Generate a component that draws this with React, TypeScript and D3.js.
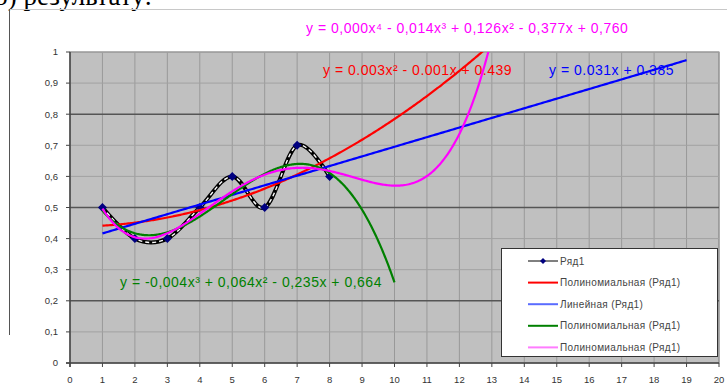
import { useEffect } from 'react'
import * as d3 from 'd3'

// Ряд1
const xValues = [1, 2, 3, 4, 5, 6, 7, 8]
const yValues = [0.5, 0.4, 0.4, 0.5, 0.6, 0.5, 0.7, 0.6]

// trendlines (Excel: degree, forecast end, colour)
const trendDegrees = [2, 1, 3, 4]
const trendEnds = [13, 19, 10, 13]
const trendColors = ['#ff0000', '#0000ff', '#008000', '#ff00ff']

const legendLabels = [
  'Ряд1',
  'Полиномиальная (Ряд1)',
  'Линейная (Ряд1)',
  'Полиномиальная (Ряд1)',
  'Полиномиальная (Ряд1)',
]
const legendColors = ['#000080', '#ff0000', '#5a6cff', '#008000', '#ff7cff']

const equations = [
  'y = 0.003x² - 0.001x + 0.439',
  'y = 0.031x + 0.385',
  'y = -0,004x³ + 0,064x² - 0,235x + 0,664',
  'y = 0,000x⁴ - 0,014x³ + 0,126x² - 0,377x + 0,760',
]
const equationPos: [number, number][] = [
  [323, 75],
  [549, 75],
  [120, 287],
  [306, 33],
]

const xTicks = d3.range(0, 21)
const yTicks = d3.range(0, 11).map(d => d / 10)
const darkRows = [0.2, 0.5, 0.8]

// least squares polynomial fit, like Excel's trendline
function polyfit(xs: number[], ys: number[], deg: number) {
  const n = deg + 1
  const A = d3.range(n).map(() => d3.range(n + 1).map(() => 0))
  xs.forEach((x, k) => {
    for (let i = 0; i < n; i++) {
      for (let j = 0; j < n; j++) A[i][j] += Math.pow(x, i + j)
      A[i][n] += Math.pow(x, i) * ys[k]
    }
  })
  for (let c = 0; c < n; c++) {
    let p = c
    for (let r = c + 1; r < n; r++) if (Math.abs(A[r][c]) > Math.abs(A[p][c])) p = r
    ;[A[c], A[p]] = [A[p], A[c]]
    for (let r = 0; r < n; r++) {
      if (r === c) continue
      const f = A[r][c] / A[c][c]
      for (let j = c; j <= n; j++) A[r][j] -= f * A[c][j]
    }
  }
  return d3.range(n).map(i => A[i][n] / A[i][i])
}

const W = 727
const H = 385
const font = '"Liberation Sans", Arial, sans-serif'

export default function App() {
  useEffect(() => {
    document.body.style.margin = '0'
  }, [])

  const x = d3.scaleLinear().domain([0, 20]).range([70, 719])
  const y = d3.scaleLinear().domain([0, 1]).range([363, 52])
  const [x0, x1] = x.range()
  const [yb, yt] = y.range()

  const pts = xValues.map((v, i) => [x(v), y(yValues[i])] as [number, number])
  const seriesPath = d3.line().curve(d3.curveCatmullRom.alpha(0))(pts) ?? ''

  const trends = trendDegrees.map((deg, i) => {
    const c = polyfit(xValues, yValues, deg)
    const xs = d3.range(0, 301).map(k => 1 + ((trendEnds[i] - 1) * k) / 300)
    const line = d3.line<number>()
      .x(v => x(v))
      .y(v => y(c.reduce((s, ci, j) => s + ci * Math.pow(v, j), 0)))
    return line(xs) ?? ''
  })

  const fmt = (v: number) => (v === 0 || v === 1 ? String(v) : d3.format('.1f')(v).replace('.', ','))

  return (
    <svg width={W} height={H} style={{ display: 'block', background: '#fff' }}>
      <defs>
        <clipPath id="plot">
          <rect x={x0} y={yt} width={x1 - x0} height={yb - yt} />
        </clipPath>
      </defs>

      {/* scanned page bits */}
      <text x={-6} y={5} fontFamily='"Liberation Serif", "Times New Roman", serif' fontSize={27} fill="#000">
        б) результату:
      </text>
      <line x1={9} x2={W} y1={9.5} y2={9.5} stroke="#c8c8c8" />
      <line x1={9.5} x2={9.5} y1={9} y2={335} stroke="#555" />

      {/* plot area */}
      <rect x={x0} y={yt} width={x1 - x0} height={yb - yt} fill="#c0c0c0" stroke="#808080" />
      {xTicks.slice(1).map(t => (
        <line key={'gx' + t} x1={x(t)} x2={x(t)} y1={yt} y2={yb} stroke="#999" strokeWidth={1} />
      ))}
      {yTicks.slice(1).map(t => (
        <line key={'gy' + t} x1={x0} x2={x1} y1={y(t)} y2={y(t)}
          stroke={darkRows.includes(t) ? '#555' : '#a2a2a2'} strokeWidth={darkRows.includes(t) ? 1.5 : 1} />
      ))}

      {/* axes */}
      <line x1={x0} x2={x0} y1={yt} y2={yb + 4} stroke="#444" strokeWidth={1.5} />
      <line x1={x0 - 4} x2={x1} y1={yb} y2={yb} stroke="#444" strokeWidth={1.5} />
      {yTicks.map(t => (
        <g key={'yt' + t}>
          <line x1={x0 - 4} x2={x0} y1={y(t)} y2={y(t)} stroke="#444" />
          <text x={58} y={y(t)} dy="0.35em" textAnchor="end" fontFamily={font} fontSize={9.5} fill="#333">
            {fmt(t)}
          </text>
        </g>
      ))}
      {xTicks.map(t => (
        <g key={'xt' + t}>
          <line x1={x(t)} x2={x(t)} y1={yb} y2={yb + 4} stroke="#444" />
          <text x={x(t)} y={380} dy="0.35em" textAnchor="middle" fontFamily={font} fontSize={9.5} fill="#333">
            {t}
          </text>
        </g>
      ))}

      {/* Ряд1 smoothed line */}
      <g clipPath="url(#plot)">
        <path d={seriesPath} fill="none" stroke="#000" strokeWidth={4} />
        <path d={seriesPath} fill="none" stroke="#fff" strokeWidth={1.4} strokeDasharray="4 3" />
        {pts.map(([px, py], i) => (
          <path key={'m' + i} d={`M${px},${py - 4.5}L${px + 4.5},${py}L${px},${py + 4.5}L${px - 4.5},${py}Z`} fill="#000080" />
        ))}
        {trends.map((d, i) => (
          <path key={'tr' + i} d={d} fill="none" stroke={trendColors[i]} strokeWidth={2.2} />
        ))}
      </g>

      {/* equations */}
      {equations.map((e, i) => (
        <text key={'eq' + i} x={equationPos[i][0]} y={equationPos[i][1]} fontFamily={font}
          fontSize={14} letterSpacing={0.5} fill={trendColors[i]}>
          {e}
        </text>
      ))}

      {/* legend */}
      <rect x={501.5} y={248.5} width={216} height={108} fill="#fff" stroke="#333" />
      {legendLabels.map((l, i) => {
        const ly = 261 + i * 21.6
        return (
          <g key={'lg' + i}>
            <line x1={528} x2={558} y1={ly} y2={ly} stroke={i === 0 ? '#000' : legendColors[i]} strokeWidth={i === 0 ? 1 : 2} />
            {i === 0 && <path d={`M543,${ly - 3}L546,${ly}L543,${ly + 3}L540,${ly}Z`} fill="#000080" />}
            <text x={560} y={ly} dy="0.35em" fontFamily={font} fontSize={10} letterSpacing={0.35} fill="#444">
              {l}
            </text>
          </g>
        )
      })}
    </svg>
  )
}
